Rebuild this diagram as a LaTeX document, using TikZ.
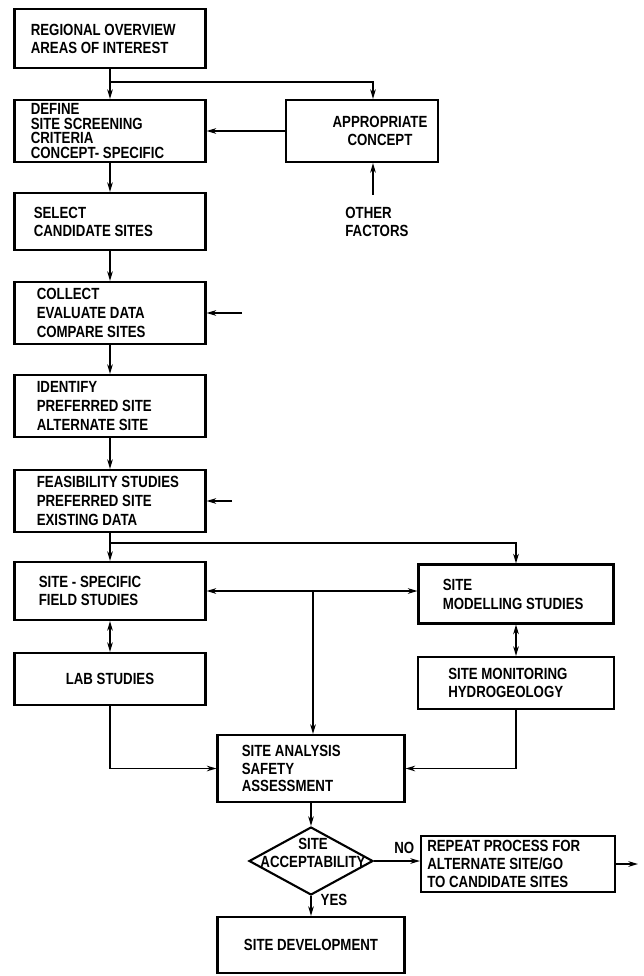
\documentclass[tikz,border=0pt]{standalone}
\usepackage{fontspec}
\setmainfont{Liberation Sans}[FakeStretch=0.82]
\usetikzlibrary{arrows.meta, positioning, shapes.geometric}

\begin{document}
\begin{tikzpicture}[
  x=0.02cm, y=-0.02cm,
  every node/.style={font=\bfseries\fontsize{9.2}{10.2}\selectfont, inner sep=0pt},
  box/.style={draw, line width=1.2pt, minimum width=3.82cm},
  txt/.style={align=left},
  loose/.style={font=\bfseries\fontsize{9.2}{10.8}\selectfont},
  tight/.style={font=\bfseries\fontsize{9.2}{8.3}\selectfont},
  decision/.style={draw, diamond, line width=1.2pt, minimum width=2.48cm, minimum height=1.36cm},
  arr/.style={-{Stealth[length=5.5pt, width=3.2pt]}, line width=1pt},
  dbl/.style={{Stealth[length=5.5pt, width=3.2pt]}-{Stealth[length=5.5pt, width=3.2pt]}, line width=1pt},
]
  \useasboundingbox (0,0) rectangle (644,976);

  \node[box, minimum height=1.18cm] (overview) at (110,38.5) {};
  \node[txt, right=0.34cm of overview.west] (overviewtxt) {REGIONAL OVERVIEW\\AREAS OF INTEREST};
  \node[box, minimum height=1.24cm] (define) at (110,131) {};
  \node[txt, tight, right=0.34cm of define.west] (definetxt) {DEFINE\\SITE SCREENING\\CRITERIA\\CONCEPT- SPECIFIC};
  \node[box, minimum width=3.04cm, minimum height=1.24cm] (concept) at (362,131) {};
  \node[align=center] (concepttxt) at (380,131) {APPROPRIATE\\CONCEPT};
  \node[txt, anchor=north west, inner ysep=7pt] (factors) at (345,195) {OTHER\\FACTORS};
  \node[box, minimum height=1.14cm] (select) at (110,221.5) {};
  \node[txt, right=0.4cm of select.west] (selecttxt) {SELECT\\CANDIDATE SITES};
  \node[box, minimum height=1.24cm] (collect) at (110,313) {};
  \node[txt, loose, right=0.46cm of collect.west] (collecttxt) {COLLECT\\EVALUATE DATA\\COMPARE SITES};
  \node[box, minimum height=1.24cm] (identify) at (110,406) {};
  \node[txt, loose, right=0.46cm of identify.west] (identifytxt) {IDENTIFY\\PREFERRED SITE\\ALTERNATE SITE};
  \node[box, minimum height=1.24cm] (feasibility) at (110,501) {};
  \node[txt, loose, right=0.46cm of feasibility.west] (feasibilitytxt) {FEASIBILITY STUDIES\\PREFERRED SITE\\EXISTING DATA};

  \node[box, minimum height=1.16cm] (field) at (110,591) {};
  \node[txt, right=0.5cm of field.west] (fieldtxt) {SITE - SPECIFIC\\FIELD STUDIES};
  \node[box, minimum width=3.9cm, minimum height=1.18cm] (modelling) at (516,594) {};
  \node[txt, loose, right=0.5cm of modelling.west] (modellingtxt) {SITE\\MODELLING STUDIES};
  \node[box, minimum height=1.04cm] (lab) at (110,679) {LAB STUDIES};
  \node[box, minimum width=3.92cm, minimum height=1.04cm] (monitoring) at (516,683) {};
  \node[txt, right=0.62cm of monitoring.west] (monitoringtxt) {SITE MONITORING\\HYDROGEOLOGY};
  \node[box, minimum width=3.74cm, minimum height=1.34cm] (analysis) at (311,768.5) {};
  \node[txt, right=0.5cm of analysis.west] (analysistxt) {SITE ANALYSIS\\SAFETY\\ASSESSMENT};
  \node[decision] (accept) at (311,861) {};
  \node[align=center] (accepttxt) at (313,853) {SITE\\ACCEPTABILITY};
  \node[box, minimum width=3.88cm, minimum height=1.12cm] (repeat) at (518,864) {};
  \node[txt, right=0.14cm of repeat.west] (repeattxt) {REPEAT PROCESS FOR\\ALTERNATE SITE/GO\\TO CANDIDATE SITES};
  \node[box, minimum width=3.74cm, minimum height=1.12cm] (development) at (311,945) {SITE DEVELOPMENT};

  \coordinate (split1) at (110,82);
  \coordinate (split1r) at (373,82);
  \coordinate (split2) at (110,543);
  \coordinate (split2r) at (516,543);
  \coordinate (hub) at (313,591);
  \coordinate (in4) at (242,313);
  \coordinate (in6) at (232,501);
  \coordinate (out) at (638,864);

  \draw[line width=1pt] (overview) -- (split1);
  \draw[arr] (split1) -- (define);
  \draw[arr] (split1) -- (split1r) -- (split1r |- concept.north);
  \draw[arr] (concept) -- (define);
  \draw[arr] (factors.north -| split1r) -- (split1r |- concept.south);
  \draw[arr] (define) -- (select);
  \draw[arr] (select) -- (collect);
  \draw[arr] (collect) -- (identify);
  \draw[arr] (identify) -- (feasibility);
  \draw[arr] (in4) -- (collect);
  \draw[arr] (in6) -- (feasibility);
  \draw[line width=1pt] (feasibility) -- (split2);
  \draw[arr] (split2) -- (field);
  \draw[arr] (split2) -- (split2r) -- (modelling);
  \draw[dbl] (field) -- (field -| modelling.west);
  \draw[arr] (hub) -- (analysis.north -| hub);
  \draw[dbl] (field) -- (lab);
  \draw[dbl] (modelling) -- (monitoring);
  \draw[arr] (lab) |- (analysis);
  \draw[arr] (monitoring) |- (analysis);
  \draw[arr] (analysis) -- (accept);
  \draw[arr] (accept) -- node[pos=0.66, above=3.5pt] (no) {NO} (accept -| repeat.west);
  \draw[arr] (repeat) -- (out);
  \draw[arr] (accept) -- node[pos=0.2, right=5pt] (yes) {YES} (development);
\end{tikzpicture}
\end{document}
